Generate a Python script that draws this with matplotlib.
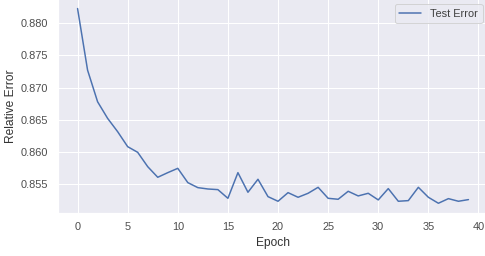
import matplotlib
matplotlib.use("Agg")
import matplotlib.pyplot as plt
import seaborn as sns

# test error per epoch
epochs = list(range(40))
test_error = [0.88228, 0.87270, 0.86778, 0.86520, 0.86313, 0.86080, 0.85992, 0.85769,
              0.85604, 0.85676, 0.85743, 0.85521, 0.85443, 0.85422, 0.85412, 0.85277,
              0.85676, 0.85371, 0.85573, 0.85303, 0.85231, 0.85365, 0.85293, 0.85355,
              0.85448, 0.85277, 0.85262, 0.85386, 0.85314, 0.85355, 0.85252, 0.85428,
              0.85231, 0.85241, 0.85448, 0.85293, 0.85200, 0.85272, 0.85231, 0.85257]

sns.set_theme(style="darkgrid")
plt.rcParams['font.family'] = ['Liberation Sans', 'DejaVu Sans']
plt.rcParams['text.color'] = '0.25'
plt.rcParams['axes.labelcolor'] = '0.2'
plt.rcParams['xtick.color'] = '0.3'
plt.rcParams['ytick.color'] = '0.3'

fig = plt.figure(figsize=(485 / 72, 256 / 72), dpi=72)
ax = fig.add_axes([0.1196, 0.168, 0.8866, 0.8367])
ax.plot(epochs, test_error, label="Test Error")
ax.set_xlabel("Epoch", labelpad=5)
ax.set_ylabel("Relative Error")
ax.set_xticks([0, 5, 10, 15, 20, 25, 30, 35, 40])
ax.legend(loc="upper right")

fig.savefig("out.png", dpi=72)
